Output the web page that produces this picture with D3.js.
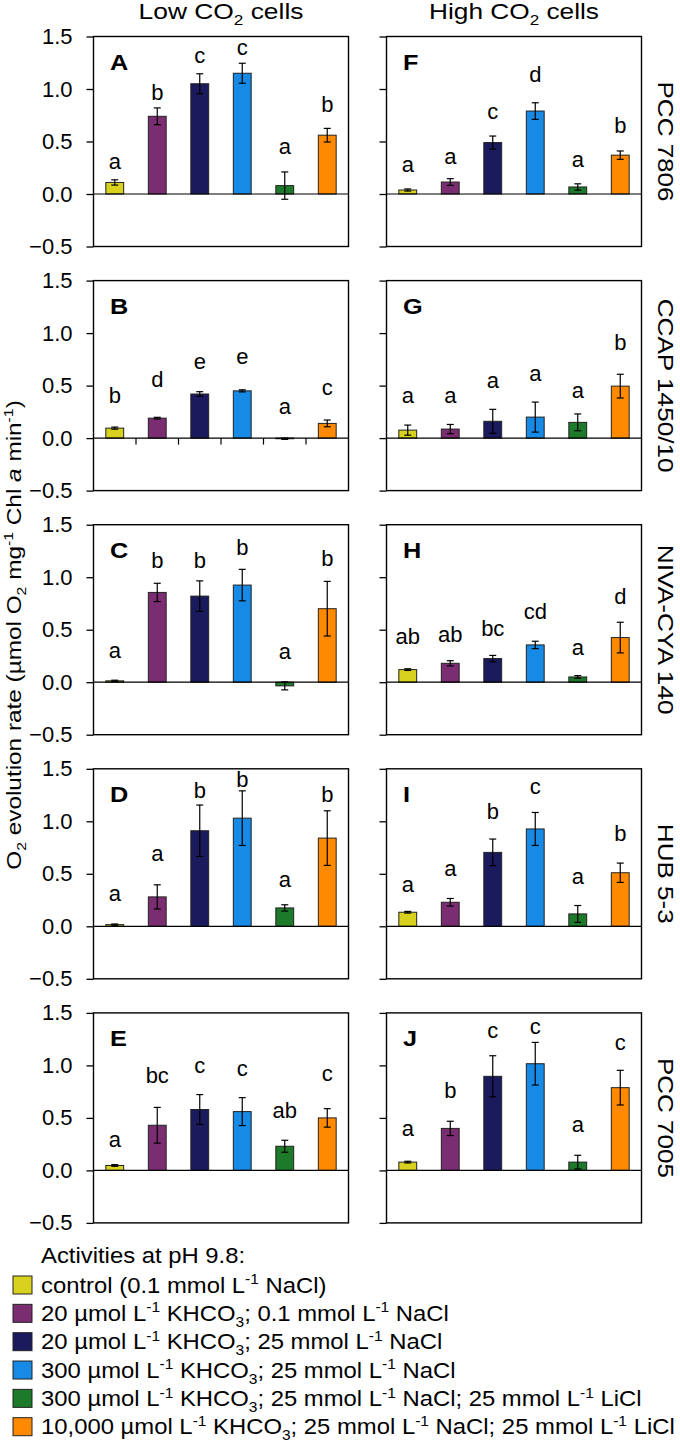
<!DOCTYPE html>
<html>
<head>
<meta charset="utf-8">
<script src="https://cdn.jsdelivr.net/npm/d3@7"></script>
<style>
  html, body { margin: 0; padding: 0; background: #fff; }
  svg { display: block; font-family: "Liberation Sans", Arial, sans-serif; }
</style>
</head>
<body>
<svg id="chart" width="680" height="1443"></svg>
<script>
// ---------------- DATA ----------------
const columnTitles = ["Low CO_{2} cells", "High CO_{2} cells"];
const strains = ["PCC 7806", "CCAP 1450/10", "NIVA-CYA 140", "HUB 5-3", "PCC 7005"];
const lowLetters = ["A", "B", "C", "D", "E"];
const highLetters = ["F", "G", "H", "I", "J"];
const yTicks = [1.5, 1.0, 0.5, 0.0, -0.5];

const conditions = [
  "control (0.1 mmol L^{-1} NaCl)",
  "20 µmol L^{-1} KHCO_{3}; 0.1 mmol L^{-1} NaCl",
  "20 µmol L^{-1} KHCO_{3}; 25 mmol L^{-1} NaCl",
  "300 µmol L^{-1} KHCO_{3}; 25 mmol L^{-1} NaCl",
  "300 µmol L^{-1} KHCO_{3}; 25 mmol L^{-1} NaCl; 25 mmol L^{-1} LiCl",
  "10,000 µmol L^{-1} KHCO_{3}; 25 mmol L^{-1} NaCl; 25 mmol L^{-1} LiCl"
];
const colors = ["#d8d21e", "#7a2d70", "#1b1a5c", "#168ae4", "#1d7a2a", "#ff8a00"];

// Low CO2 cells (panels A-E): mean, error, significance letters, letter height
const lowValues = [
  [0.11, 0.74, 1.05, 1.15, 0.08, 0.56],
  [0.095, 0.19, 0.42, 0.45, -0.006, 0.14],
  [0.013, 0.855, 0.82, 0.925, -0.035, 0.70],
  [0.016, 0.28, 0.91, 1.03, 0.175, 0.84],
  [0.047, 0.43, 0.58, 0.56, 0.23, 0.50]
];
const lowErrors = [
  [0.025, 0.08, 0.095, 0.095, 0.13, 0.065],
  [0.01, 0.008, 0.022, 0.01, 0.006, 0.032],
  [0.006, 0.087, 0.145, 0.15, 0.038, 0.26],
  [0.006, 0.115, 0.245, 0.26, 0.03, 0.26],
  [0.008, 0.17, 0.142, 0.133, 0.057, 0.088]
];
const lowSig = [
  ["a", "b", "c", "c", "a", "b"],
  ["b", "d", "e", "e", "a", "c"],
  ["a", "b", "b", "b", "a", "b"],
  ["a", "a", "b", "b", "a", "b"],
  ["a", "bc", "c", "c", "ab", "c"]
];
const lowSigY = [
  [0.24, 0.90, 1.25, 1.32, 0.38, 0.78],
  [0.33, 0.49, 0.66, 0.71, 0.23, 0.41],
  [0.235, 1.09, 1.09, 1.21, 0.22, 1.11],
  [0.24, 0.62, 1.22, 1.33, 0.37, 1.18],
  [0.225, 0.83, 0.93, 0.90, 0.50, 0.85]
];

// High CO2 cells (panels F-J)
const highValues = [
  [0.038, 0.114, 0.49, 0.79, 0.067, 0.37],
  [0.076, 0.086, 0.16, 0.20, 0.15, 0.495],
  [0.12, 0.18, 0.225, 0.355, 0.05, 0.425],
  [0.134, 0.229, 0.704, 0.927, 0.118, 0.51],
  [0.079, 0.40, 0.896, 1.016, 0.079, 0.788]
];
const highErrors = [
  [0.01, 0.032, 0.062, 0.079, 0.03, 0.04],
  [0.048, 0.044, 0.114, 0.143, 0.08, 0.113],
  [0.008, 0.025, 0.03, 0.035, 0.013, 0.146],
  [0.008, 0.036, 0.127, 0.157, 0.08, 0.092],
  [0.008, 0.068, 0.196, 0.203, 0.065, 0.165]
];
const highSig = [
  ["a", "a", "c", "d", "a", "b"],
  ["a", "a", "a", "a", "a", "b"],
  ["ab", "ab", "bc", "cd", "a", "d"],
  ["a", "a", "b", "c", "a", "b"],
  ["a", "b", "c", "c", "a", "c"]
];
const highSigY = [
  [0.21, 0.29, 0.71, 1.07, 0.26, 0.58],
  [0.33, 0.33, 0.48, 0.54, 0.38, 0.84],
  [0.36, 0.38, 0.44, 0.60, 0.26, 0.74],
  [0.33, 0.48, 1.02, 1.26, 0.40, 0.81],
  [0.33, 0.69, 1.26, 1.30, 0.37, 1.15]
];

const legendTitle = "Activities at pH 9.8:";
const yAxisLabel = "O_{2} evolution rate (µmol O_{2} mg^{-1} Chl *a* min^{-1})";

// ---------------- LAYOUT ----------------
const svg = d3.select("#chart");
const colX = [93.5, 386.5];
const panelW = 255;
const panelH = 210;
const panelTop0 = 36.5;
const panelStep = 244.1;
const FONT = 22;

function rich(textSel, str, size) {
  const parts = str.split(/(_\{[^}]*\}|\^\{[^}]*\}|\*[^*]*\*)/).filter(s => s.length);
  let shift = 0;
  parts.forEach(p => {
    let txt = p, fs = size, ns = 0, ital = false;
    if (p.startsWith("_{")) { txt = p.slice(2, -1); fs = size * 0.65; ns = size * 0.28; }
    else if (p.startsWith("^{")) { txt = p.slice(2, -1); fs = size * 0.65; ns = -size * 0.38; }
    else if (p.startsWith("*")) { txt = p.slice(1, -1); ital = true; }
    const t = textSel.append("tspan").attr("font-size", fs).attr("dy", ns - shift).text(txt);
    if (ital) t.attr("font-style", "italic");
    shift = ns;
  });
  return textSel;
}

function fit(textSel, target) {
  const w = textSel.node().getComputedTextLength();
  return w > 0 ? target / w : 1;
}

const x = d3.scaleBand().domain(d3.range(6)).range([0, panelW]).paddingInner(0.58).paddingOuter(0.29);
const y = d3.scaleLinear().domain([-0.5, 1.5]).range([panelH, 0]);

function drawPanel(col, row, vals, errs, sig, sigY, letter) {
  const g = svg.append("g").attr("transform", `translate(${colX[col]},${panelTop0 + row * panelStep})`);

  const ax = d3.axisLeft(y).tickValues(yTicks).tickSize(7).tickPadding(14)
    .tickFormat(d3.format(".1f"));
  const axG = g.append("g").call(ax);
  axG.select(".domain").remove();
  axG.selectAll(".tick line").attr("stroke", "#000").attr("stroke-width", 1.3);
  axG.selectAll(".tick text").attr("font-size", FONT).attr("fill", "#000")
    .attr("font-family", "Liberation Sans, Arial, sans-serif")
    .style("display", col === 0 ? null : "none");

  g.selectAll("rect.bar").data(vals).join("rect").attr("class", "bar")
    .attr("x", (d, i) => x(i))
    .attr("y", d => y(Math.max(0, d)))
    .attr("width", x.bandwidth())
    .attr("height", d => Math.abs(y(d) - y(0)))
    .attr("fill", (d, i) => colors[i])
    .attr("stroke", "#222").attr("stroke-width", 1);

  g.append("line").attr("x1", 0).attr("x2", panelW).attr("y1", y(0)).attr("y2", y(0))
    .attr("stroke", "#000").attr("stroke-width", 1.2);

  if (letter === "B") {
    d3.range(1, 6).forEach(i => {
      const xx = x(i) - x.step() * x.paddingInner() / 2;
      g.append("line").attr("x1", xx).attr("x2", xx).attr("y1", y(0)).attr("y2", y(0) + 6.5)
        .attr("stroke", "#000").attr("stroke-width", 1.2);
    });
  }

  const cap = 3.5;
  vals.forEach((d, i) => {
    const cx = x(i) + x.bandwidth() / 2;
    const e = errs[i];
    const eg = g.append("g").attr("stroke", "#000").attr("stroke-width", 1.2);
    eg.append("line").attr("x1", cx).attr("x2", cx).attr("y1", y(d + e)).attr("y2", y(d - e));
    eg.append("line").attr("x1", cx - cap).attr("x2", cx + cap).attr("y1", y(d + e)).attr("y2", y(d + e));
    eg.append("line").attr("x1", cx - cap).attr("x2", cx + cap).attr("y1", y(d - e)).attr("y2", y(d - e));
  });

  g.selectAll("text.sig").data(sig).join("text").attr("class", "sig")
    .attr("x", (d, i) => x(i) + x.bandwidth() / 2)
    .attr("y", (d, i) => y(sigY[i]))
    .attr("text-anchor", "middle").attr("font-size", FONT).attr("fill", "#000")
    .text(d => d);

  g.append("rect").attr("x", 0).attr("y", 0).attr("width", panelW).attr("height", panelH)
    .attr("fill", "none").attr("stroke", "#000").attr("stroke-width", 1.4);

  g.append("text").attr("transform", "translate(16.5,33.5) scale(1.15,1)")
    .attr("font-size", FONT).attr("font-weight", "bold")
    .attr("fill", "#000").text(letter);
}

for (let r = 0; r < 5; r++) {
  drawPanel(0, r, lowValues[r], lowErrors[r], lowSig[r], lowSigY[r], lowLetters[r]);
  drawPanel(1, r, highValues[r], highErrors[r], highSig[r], highSigY[r], highLetters[r]);
}

// column titles
const titleLens = [165, 170];
columnTitles.forEach((t, i) => {
  const g = svg.append("g");
  const tx = g.append("text").attr("text-anchor", "middle").attr("fill", "#000");
  rich(tx, t, FONT);
  const k = fit(tx, titleLens[i]);
  g.attr("transform", `translate(${colX[i] + panelW / 2},19) scale(${k},1)`);
});

// strain labels
const strainLens = [120, 174, 170, 100, 120];
strains.forEach((s, r) => {
  const g = svg.append("g");
  const tx = g.append("text").attr("text-anchor", "middle").attr("fill", "#000")
    .attr("font-size", FONT).text(s);
  const k = fit(tx, strainLens[r]);
  const cy = panelTop0 + r * panelStep + panelH / 2;
  g.attr("transform", `translate(658,${cy}) rotate(90) scale(${k},1)`);
});

// y axis label
{
  const g = svg.append("g");
  const tx = g.append("text").attr("text-anchor", "middle").attr("fill", "#000");
  rich(tx, yAxisLabel, 21);
  const k = fit(tx, 470);
  g.attr("transform", `translate(20.5,635) rotate(-90) scale(${k},1)`);
}

// legend
const legX = 41, legSq = 13, LEGF = 22;
const rowY = d3.scaleLinear().domain([0, 5]).range([1285, 1426.7]);
const legRows = conditions.map((c, i) => {
  const g = svg.append("g");
  const tx = g.append("text").attr("fill", "#000");
  rich(tx, c, LEGF);
  return { g, tx, i };
});
const legK = fit(legRows[5].tx, 634);
{
  const g = svg.append("g");
  g.append("text").attr("fill", "#000").attr("font-size", LEGF).text(legendTitle);
  g.attr("transform", `translate(${legX},1263) scale(${legK},1)`);
}
legRows.forEach(({ g, i }) => {
  svg.append("rect").attr("x", legSq).attr("y", rowY(i) - 9).attr("width", 19).attr("height", 18)
    .attr("fill", colors[i]).attr("stroke", "#222").attr("stroke-width", 1);
  g.attr("transform", `translate(${legX},${rowY(i) + 7.5}) scale(${legK},1)`);
});
</script>
</body>
</html>
